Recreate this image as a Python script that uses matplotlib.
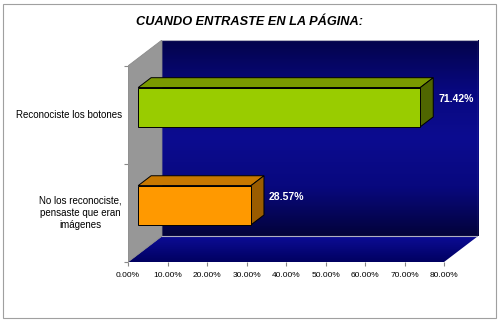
import numpy as np
import matplotlib.pyplot as plt
from matplotlib.patches import Polygon, Rectangle
from matplotlib.colors import LinearSegmentedColormap

plt.rcParams['font.family'] = ['Liberation Sans', 'DejaVu Sans']

# data
categories = ["No los reconociste,\npensaste que eran\nimágenes", "Reconociste los botones"]
values = [28.57, 71.42]
value_labels = ["28.57%", "71.42%"]
xticks = [0, 10, 20, 30, 40, 50, 60, 70, 80]

# styling
front_cols = ["#ff9900", "#99cc00"]
top_cols = ["#c87800", "#7a9900"]
side_cols = ["#9a5c00", "#4f6600"]

DX, DY = 8.6, 0.264      # depth of the 3d box in data units
F0, F1 = 0.30, 0.68      # bar depth span (fraction of box depth)
H = 0.40                 # bar thickness
XMAX = 80

fig = plt.figure(figsize=(5, 3.22), dpi=100)
ax = fig.add_axes([128 / 500, 60 / 322, 350 / 500, 222 / 322])
for s in ax.spines.values():
    s.set_visible(False)

# back wall gradient
wall_cmap = LinearSegmentedColormap.from_list(
    "wall", ["#03033a", "#08087e", "#0c0c90", "#08087e", "#03034a"])
grad = np.linspace(0, 1, 256).reshape(-1, 1)
ax.imshow(grad, cmap=wall_cmap, aspect='auto', origin='lower',
          extent=[DX, XMAX + DX, DY, 2 + DY], zorder=1)

# floor
floor_cmap = LinearSegmentedColormap.from_list("floor", ["#000060", "#0c0c96"])
floor = Polygon([(0, 0), (XMAX, 0), (XMAX + DX, DY), (DX, DY)], closed=True,
                facecolor='none', edgecolor='none')
ax.add_patch(floor)
im = ax.imshow(grad, cmap=floor_cmap, aspect='auto', origin='lower',
               extent=[0, XMAX + DX, 0, DY], zorder=1)
im.set_clip_path(floor)

# left wall
ax.add_patch(Polygon([(0, 0), (DX, DY), (DX, 2 + DY), (0, 2)], closed=True,
                     facecolor="#979797", edgecolor="#8a8a8a", lw=0.6, zorder=2))
# back wall edges
ax.plot([DX, XMAX + DX, XMAX + DX, DX], [DY, DY, 2 + DY, 2 + DY], color="#b0b0c0", lw=0.8, zorder=2)

ax.set_xlim(0, XMAX + DX)
ax.set_ylim(0, 2 + DY)

for i, v in enumerate(values):
    c = i + 0.5
    x0a, x0b = F0 * DX, F1 * DX
    y0a, y0b = F0 * DY, F1 * DY
    bot, top = c - H / 2, c + H / 2
    # top face
    ax.add_patch(Polygon([(x0a, top + y0a), (v + x0a, top + y0a),
                          (v + x0b, top + y0b), (x0b, top + y0b)],
                         closed=True, facecolor=top_cols[i], edgecolor='black', lw=0.7, zorder=3))
    # side face
    ax.add_patch(Polygon([(v + x0a, bot + y0a), (v + x0a, top + y0a),
                          (v + x0b, top + y0b), (v + x0b, bot + y0b)],
                         closed=True, facecolor=side_cols[i], edgecolor='black', lw=0.7, zorder=3))
    # front face
    ax.add_patch(Rectangle((x0a, bot + y0a), v, H, facecolor=front_cols[i],
                           edgecolor='black', lw=0.7, zorder=4))
    ax.text(v + x0b + 1.3, c + 0.16, value_labels[i], color='white', fontsize=7.5,
            fontweight='bold', ha='left', va='center', zorder=5)
    ax.text(-1.5, c, categories[i], fontsize=7, ha='right', va='center',
            multialignment='center', color='black', linespacing=1.25)

ax.set_xticks(xticks)
ax.set_xticklabels(["{:.2f}%".format(t) for t in xticks], fontsize=6)
ax.set_yticks([0, 1, 2])
ax.set_yticklabels([])
ax.tick_params(axis='x', length=3, color='#888888', pad=4)
ax.tick_params(axis='y', length=3, color='#888888')

fig.text(0.5, 1 - 22 / 322, "CUANDO ENTRASTE EN LA PÁGINA:", ha='center', va='center',
         fontsize=9.2, fontweight='bold', fontstyle='italic')

fig.patches.append(Rectangle((3 / 500, 4 / 322), 493 / 500, 314 / 322, transform=fig.transFigure,
                             fill=False, edgecolor='#a0a0a0', lw=0.8))

fig.savefig("out.png", dpi=100)
